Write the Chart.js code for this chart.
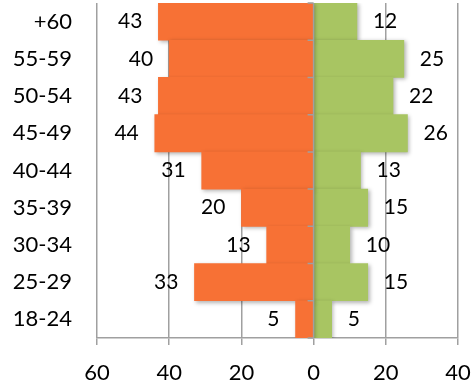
<!DOCTYPE html>
<html>
<head>
<meta charset="utf-8">
<script src="https://cdn.jsdelivr.net/npm/chart.js@4"></script>
<style>
  html, body { margin: 0; padding: 0; background: #fff; }
  #wrap { width: 472px; height: 389px; }
</style>
</head>
<body>
<div id="wrap"><canvas id="myChart" width="472" height="389"></canvas></div>
<script>
const categories = ['+60', '55-59', '50-54', '45-49', '40-44', '35-39', '30-34', '25-29', '18-24'];
const leftValues = [43, 40, 43, 44, 31, 20, 13, 33, 5];
const rightValues = [12, 25, 22, 26, 13, 15, 10, 15, 5];
const xTicks = [-60, -40, -20, 0, 20, 40];

const fontFamily = 'Lato, "Open Sans", sans-serif';
const gridColor = '#a0a0a0';

// bar labels placed just outside the end of each bar
const barLabels = {
  id: 'barLabels',
  beforeDatasetsDraw(chart) {
    const ctx = chart.ctx;
    ctx.save();
    ctx.shadowColor = 'rgba(0,0,0,0.3)';
    ctx.shadowBlur = 4;
    ctx.shadowOffsetX = 1.5;
    ctx.shadowOffsetY = 1.5;
  },
  afterDatasetsDraw(chart) {
    const ctx = chart.ctx;
    ctx.restore();

    // vertical axis at zero, drawn on top of the bars
    const xs = chart.scales.x;
    const ys = chart.scales.y;
    const x0 = xs.getPixelForValue(0);
    ctx.save();
    ctx.strokeStyle = gridColor;
    ctx.lineWidth = 1.5;
    ctx.beginPath();
    ctx.moveTo(x0, chart.chartArea.top);
    ctx.lineTo(x0, chart.chartArea.bottom);
    const step = (ys.getPixelForValue(1) - ys.getPixelForValue(0));
    for (let i = 0; i <= categories.length; i++) {
      const y = ys.getPixelForValue(i) - step / 2;
      ctx.moveTo(x0 - 6, y);
      ctx.lineTo(x0, y);
    }
    ctx.stroke();

    ctx.fillStyle = '#000';
    ctx.font = '21px ' + fontFamily;
    ctx.textBaseline = 'middle';
    chart.data.datasets.forEach((ds, di) => {
      const meta = chart.getDatasetMeta(di);
      meta.data.forEach((bar, i) => {
        const v = ds.data[i];
        if (v < 0) {
          ctx.textAlign = 'right';
          ctx.fillText(String(-v), bar.x - 16, bar.y);
        } else {
          ctx.textAlign = 'left';
          ctx.fillText(String(v), bar.x + 16, bar.y);
        }
      });
    });
    ctx.restore();
  }
};

const ctx = document.getElementById('myChart');

const myChart = new Chart(ctx, {
  type: 'bar',
  data: {
    labels: categories,
    datasets: [
      {
        label: 'left',
        data: leftValues.map(v => -v),
        backgroundColor: '#f77135',
        borderWidth: 0,
        barPercentage: 1,
        categoryPercentage: 1
      },
      {
        label: 'right',
        data: rightValues,
        backgroundColor: '#a8c562',
        borderWidth: 0,
        barPercentage: 1,
        categoryPercentage: 1
      }
    ]
  },
  options: {
    indexAxis: 'y',
    responsive: false,
    animation: false,
    layout: { padding: { top: 3, right: 14, left: 0, bottom: 0 } },
    plugins: {
      legend: { display: false },
      tooltip: { enabled: false }
    },
    scales: {
      x: {
        stacked: true,
        min: -60,
        max: 40,
        afterBuildTicks(scale) {
          scale.ticks = xTicks.map(v => ({ value: v }));
        },
        afterFit(scale) {
          scale.height = 51;
          scale.paddingLeft = 0;
          scale.paddingRight = 0;
        },
        grid: {
          color: gridColor,
          lineWidth: 1.5,
          tickLength: 7,
          drawTicks: true
        },
        border: { display: true, color: gridColor, width: 1.5 },
        ticks: {
          color: '#000',
          padding: 15,
          maxRotation: 0,
          font: { family: fontFamily, size: 22 },
          callback: v => String(Math.abs(v))
        }
      },
      y: {
        stacked: true,
        afterFit(scale) {
          scale.width = 97;
          scale.paddingTop = 0;
          scale.paddingBottom = 0;
        },
        grid: { display: false, drawTicks: false },
        border: { display: false },
        ticks: {
          color: '#000',
          padding: 25,
          font: { family: fontFamily, size: 22 }
        }
      }
    }
  },
  plugins: [barLabels]
});
</script>
</body>
</html>
